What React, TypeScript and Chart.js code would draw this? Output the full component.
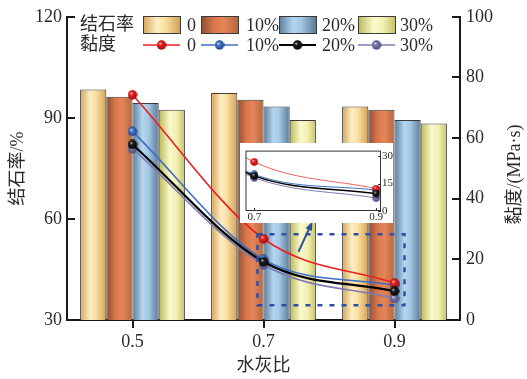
import React, { useEffect, useRef } from 'react';
import { Chart, registerables } from 'chart.js';

Chart.register(...registerables);

// ---------------- data ----------------
const categories = ['0.5', '0.7', '0.9'];
const seriesLabels = ['0', '10%', '20%', '30%'];
const stoneRate0 = [98.4, 97.4, 93.4];
const stoneRate10 = [96.3, 95.4, 92.4];
const stoneRate20 = [94.4, 93.4, 89.4];
const stoneRate30 = [92.4, 89.4, 88.3];
const visc0 = [74.3, 26.8, 12.2];
const visc10 = [62.2, 20.0, 11.4];
const visc20 = [57.9, 19.2, 9.5];
const visc30 = [56.5, 18.2, 7.1];
const leftTicks = [30, 60, 90, 120];
const rightTicks = [0, 20, 40, 60, 80, 100];
const insetTicks = [0, 15, 30];
const insetCategories = ['0.7', '0.9'];

const stoneSeries = [stoneRate0, stoneRate10, stoneRate20, stoneRate30];
const viscSeries = [visc0, visc10, visc20, visc30];

// ---------------- styles ----------------
const SERIF = '"Liberation Serif", "Times New Roman", "Noto Sans CJK SC", serif';
const TEXT = '#2a2a2a';
const AXIS = '#1a1a1a';

const barStops: [number, string][][] = [
  [[0, '#D2A45A'], [0.38, '#FFEEC4'], [0.6, '#FADFA2'], [1, '#D3A257']],
  [[0, '#8A4E33'], [0.35, '#D9774B'], [0.6, '#E5865A'], [1, '#B6673F']],
  [[0, '#5C7C9B'], [0.38, '#B4D6F0'], [0.6, '#A5C8E4'], [1, '#5A7A98']],
  [[0, '#BAB856'], [0.42, '#FBF9CB'], [0.68, '#F2F0B3'], [1, '#C6C36A']],
];
const lineColors = ['#EE1F1F', '#3B6FC4', '#000000', '#7C7CB2'];
const markerColors: [string, string][] = [
  ['#F02A2A', '#A00000'],
  ['#4A7ED0', '#1E3F80'],
  ['#222222', '#000000'],
  ['#7C7CB4', '#45457A'],
];
const lineWidths = [1.6, 1.6, 2.2, 1.6];

function makeGrad(ctx: CanvasRenderingContext2D, x0: number, x1: number, stops: [number, string][]) {
  const g = ctx.createLinearGradient(x0, 0, x1, 0);
  stops.forEach(([o, c]) => g.addColorStop(o, c));
  return g;
}

function sphere(color: string, dark: string, size: number) {
  const c = document.createElement('canvas');
  c.width = size;
  c.height = size;
  const g = c.getContext('2d')!;
  const r = size / 2;
  const grad = g.createRadialGradient(r * 0.7, r * 0.65, 0, r, r, r);
  grad.addColorStop(0, '#ffffff');
  grad.addColorStop(0.3, color);
  grad.addColorStop(1, dark);
  g.fillStyle = grad;
  g.beginPath();
  g.arc(r, r, r - 0.3, 0, Math.PI * 2);
  g.fill();
  return c;
}

export default function App() {
  const mainRef = useRef<HTMLCanvasElement>(null);
  const insetRef = useRef<HTMLCanvasElement>(null);

  useEffect(() => {
    document.body.style.margin = '0';
    const markersBig = markerColors.map(([c, d]) => sphere(c, d, 10));
    const markersSmall = markerColors.map(([c, d]) => sphere(c, d, 8));

    const barBg = (d: number) => (ctx: any) => {
      const chart = ctx.chart;
      const xs = chart.scales?.x;
      if (!xs || ctx.dataIndex === undefined || !isFinite(xs.width)) return barStops[d][1][1];
      const center = xs.getPixelForValue(ctx.dataIndex);
      const catW = xs.width / categories.length;
      const barW = (catW * 0.8) / 4;
      const left = center + (d - 2) * barW;
      return makeGrad(chart.ctx, left, left + barW, barStops[d]);
    };

    const barDatasets = stoneSeries.map((data, d) => ({
      type: 'bar' as const,
      label: '结石率 ' + seriesLabels[d],
      data,
      yAxisID: 'y',
      backgroundColor: barBg(d),
      borderColor: '#3a3a3a',
      borderWidth: 1,
      categoryPercentage: 0.8,
      barPercentage: 1.0,
      order: 10,
    }));
    const lineOrder = [1, 2, 0, 3];
    const lineDatasets = viscSeries.map((data, d) => ({
      type: 'line' as const,
      label: '黏度 ' + seriesLabels[d],
      data,
      yAxisID: 'y1',
      borderColor: lineColors[d],
      borderWidth: lineWidths[d],
      cubicInterpolationMode: 'monotone' as const,
      pointStyle: markersBig[d],
      pointRadius: 5,
      fill: false,
      order: lineOrder[d],
    }));

    const mainPlugin = {
      id: 'decor',
      afterDraw(chart: any) {
        const ctx: CanvasRenderingContext2D = chart.ctx;
        const xs = chart.scales.x;
        const y = chart.scales.y;
        const y1 = chart.scales.y1;
        const area = chart.chartArea;
        ctx.save();
        // tick marks
        ctx.strokeStyle = AXIS;
        ctx.lineWidth = 2;
        ctx.beginPath();
        leftTicks.forEach((t) => {
          const py = Math.round(y.getPixelForValue(t));
          ctx.moveTo(area.left, py);
          ctx.lineTo(area.left + 8, py);
        });
        rightTicks.forEach((t) => {
          const py = Math.round(y1.getPixelForValue(t));
          ctx.moveTo(area.right, py);
          ctx.lineTo(area.right - 8, py);
        });
        categories.forEach((_, i) => {
          const px = Math.round(xs.getPixelForValue(i));
          ctx.moveTo(px, area.bottom);
          ctx.lineTo(px, area.bottom + 8);
        });
        ctx.stroke();

        // axis titles
        ctx.fillStyle = TEXT;
        ctx.font = '18px ' + SERIF;
        ctx.textAlign = 'center';
        ctx.textBaseline = 'middle';
        ctx.fillText('水灰比', (area.left + area.right) / 2, 366);
        ctx.save();
        ctx.translate(18, (area.top + area.bottom) / 2);
        ctx.rotate(-Math.PI / 2);
        ctx.fillText('结石率/%', 0, 0);
        ctx.restore();
        ctx.save();
        ctx.translate(515, (area.top + area.bottom) / 2 + 6);
        ctx.rotate(-Math.PI / 2);
        ctx.fillText('黏度/(MPa·s)', 0, 0);
        ctx.restore();

        // legend
        const swX = [143, 201, 279, 358];
        const lblX = [187, 246, 322, 400];
        const row1 = 25;
        const row2 = 45;
        ctx.textAlign = 'left';
        ctx.font = '18px ' + SERIF;
        ctx.fillText('结石率', 80, row1);
        ctx.fillText('黏度', 80, row2);
        seriesLabels.forEach((lab, d) => {
          const x0 = swX[d];
          ctx.fillStyle = makeGrad(ctx, x0, x0 + 37, barStops[d]);
          ctx.fillRect(x0, row1 - 8.5, 37, 17);
          ctx.strokeStyle = '#3a3a3a';
          ctx.lineWidth = 1;
          ctx.strokeRect(x0 + 0.5, row1 - 8.5, 37, 17);
          ctx.fillStyle = TEXT;
          ctx.fillText(lab, lblX[d], row1 + 1);
          // line sample
          ctx.strokeStyle = lineColors[d];
          ctx.lineWidth = lineWidths[d];
          ctx.beginPath();
          ctx.moveTo(x0, row2);
          ctx.lineTo(x0 + 37, row2);
          ctx.stroke();
          const m = markersBig[d];
          ctx.drawImage(m, x0 + 18.5 - m.width / 2, row2 - m.height / 2);
          ctx.fillStyle = TEXT;
          ctx.fillText(lab, lblX[d], row2 + 1);
        });

        // dashed zoom rectangle
        const rx0 = xs.getPixelForValue(1) - 6;
        const rx1 = xs.getPixelForValue(2) + 10;
        const ry0 = y1.getPixelForValue(28.3);
        const ry1 = y1.getPixelForValue(4.9);
        ctx.strokeStyle = '#2E4FA8';
        ctx.lineWidth = 2.5;
        ctx.setLineDash([5, 7]);
        ctx.strokeRect(rx0, ry0, rx1 - rx0, ry1 - ry0);
        ctx.setLineDash([]);

        // arrow
        const ax0 = xs.getPixelForValue(1) + 35;
        const ay0 = y1.getPixelForValue(22.5);
        const ax1 = xs.getPixelForValue(1) + 49;
        const ay1 = y1.getPixelForValue(32.5);
        const ang = Math.atan2(ay1 - ay0, ax1 - ax0);
        ctx.strokeStyle = '#2E4FA0';
        ctx.fillStyle = '#2E4FA0';
        ctx.lineWidth = 2;
        ctx.beginPath();
        ctx.moveTo(ax0, ay0);
        ctx.lineTo(ax1 - 6 * Math.cos(ang), ay1 - 6 * Math.sin(ang));
        ctx.stroke();
        ctx.beginPath();
        ctx.moveTo(ax1, ay1);
        ctx.lineTo(ax1 - 9 * Math.cos(ang) + 3.5 * Math.sin(ang), ay1 - 9 * Math.sin(ang) - 3.5 * Math.cos(ang));
        ctx.lineTo(ax1 - 9 * Math.cos(ang) - 3.5 * Math.sin(ang), ay1 - 9 * Math.sin(ang) + 3.5 * Math.cos(ang));
        ctx.closePath();
        ctx.fill();
        ctx.restore();
      },
    };

    const tickFont = { family: SERIF, size: 18 };
    const main = new Chart(mainRef.current!, {
      type: 'bar',
      data: { labels: categories, datasets: [...barDatasets, ...lineDatasets] as any },
      options: {
        animation: false,
        responsive: false,
        devicePixelRatio: 1,
        layout: { padding: { top: 13, left: 0, right: 0, bottom: 0 } },
        plugins: { legend: { display: false }, tooltip: { enabled: false } },
        scales: {
          x: {
            type: 'category',
            offset: true,
            grid: { display: false, drawTicks: false },
            border: { display: true, color: AXIS, width: 2 },
            ticks: { font: tickFont, color: TEXT, padding: 11, maxRotation: 0 },
            afterFit: (s: any) => { s.height = 59; },
          },
          y: {
            position: 'left',
            min: 30,
            max: 120,
            grid: { display: false, drawTicks: false },
            border: { display: true, color: AXIS, width: 2 },
            ticks: { font: tickFont, color: TEXT, padding: 5, stepSize: 30 },
            afterBuildTicks: (s: any) => { s.ticks = leftTicks.map((v) => ({ value: v })); },
            afterFit: (s: any) => { s.width = 67; },
          },
          y1: {
            position: 'right',
            min: 0,
            max: 100,
            grid: { display: false, drawTicks: false },
            border: { display: true, color: AXIS, width: 2 },
            ticks: { font: tickFont, color: TEXT, padding: 6, stepSize: 20 },
            afterBuildTicks: (s: any) => { s.ticks = rightTicks.map((v) => ({ value: v })); },
            afterFit: (s: any) => { s.width = 67; },
          },
        },
      } as any,
      plugins: [mainPlugin],
    });

    // ---------------- inset ----------------
    const insetPlugin = {
      id: 'insetDecor',
      beforeDraw(chart: any) {
        const ctx = chart.ctx;
        ctx.save();
        ctx.fillStyle = '#ffffff';
        ctx.fillRect(0, 0, chart.width, chart.height);
        ctx.restore();
      },
      afterDraw(chart: any) {
        const ctx = chart.ctx;
        const a = chart.chartArea;
        const y = chart.scales.y;
        const x = chart.scales.x;
        ctx.save();
        ctx.strokeStyle = '#333';
        ctx.lineWidth = 1;
        ctx.strokeRect(a.left + 0.5, a.top + 0.5, a.right - a.left - 1, a.bottom - a.top - 1);
        ctx.beginPath();
        insetTicks.forEach((t) => {
          const py = Math.round(y.getPixelForValue(t)) + 0.5;
          ctx.moveTo(a.right, py);
          ctx.lineTo(a.right - 3, py);
        });
        insetCategories.forEach((c) => {
          const px = Math.round(x.getPixelForValue(parseFloat(c))) + 0.5;
          ctx.moveTo(px, a.bottom);
          ctx.lineTo(px, a.bottom - 3);
        });
        ctx.stroke();
        ctx.restore();
      },
    };

    const insetDatasets = viscSeries.map((data, d) => ({
      label: seriesLabels[d],
      data: insetCategories.map((c) => ({ x: parseFloat(c), y: data[categories.indexOf(c)] })),
      borderColor: d === 0 ? '#F26060' : lineColors[d],
      borderWidth: d === 2 ? 1.5 : 1,
      cubicInterpolationMode: 'monotone' as const,
      tension: 0.4,
      pointStyle: markersSmall[d],
      pointRadius: 4,
      fill: false,
      order: lineOrder[d],
    }));
    // curvature between two points: add control by using tension on a 2-point line isn't possible,
    // so use the main chart's three points and clip to the inset range.
    insetDatasets.forEach((ds, d) => {
      ds.data = categories.map((c) => ({ x: parseFloat(c), y: viscSeries[d][categories.indexOf(c)] }));
    });

    const smallFont = { family: SERIF, size: 11 };
    const inset = new Chart(insetRef.current!, {
      type: 'line',
      data: { datasets: insetDatasets as any },
      options: {
        animation: false,
        responsive: false,
        devicePixelRatio: 1,
        layout: { padding: { top: 1, left: 2, right: 0, bottom: 0 } },
        plugins: { legend: { display: false }, tooltip: { enabled: false } },
        scales: {
          x: {
            type: 'linear',
            min: 0.6856,
            max: 0.908,
            grid: { display: false, drawTicks: false },
            border: { display: false },
            ticks: { font: smallFont, color: TEXT, padding: 0, maxRotation: 0, callback: (v: any) => Number(v).toFixed(1) },
            afterBuildTicks: (s: any) => { s.ticks = insetCategories.map((c) => ({ value: parseFloat(c) })); },
            afterFit: (s: any) => { s.height = 12; },
          },
          y: {
            position: 'right',
            min: 0,
            max: 33,
            grid: { display: false, drawTicks: false },
            border: { display: false },
            ticks: { font: smallFont, color: TEXT, padding: 1 },
            afterBuildTicks: (s: any) => { s.ticks = insetTicks.map((v) => ({ value: v })); },
            afterFit: (s: any) => { s.width = 12; },
          },
        },
      } as any,
      plugins: [insetPlugin],
    });

    return () => {
      main.destroy();
      inset.destroy();
    };
  }, []);

  return (
    <div style={{ position: 'relative', width: 527, height: 379 }}>
      <canvas ref={mainRef} width={527} height={379} style={{ position: 'absolute', left: 0, top: 0 }} />
      <canvas ref={insetRef} width={153} height={80} style={{ position: 'absolute', left: 240, top: 143 }} />
    </div>
  );
}
